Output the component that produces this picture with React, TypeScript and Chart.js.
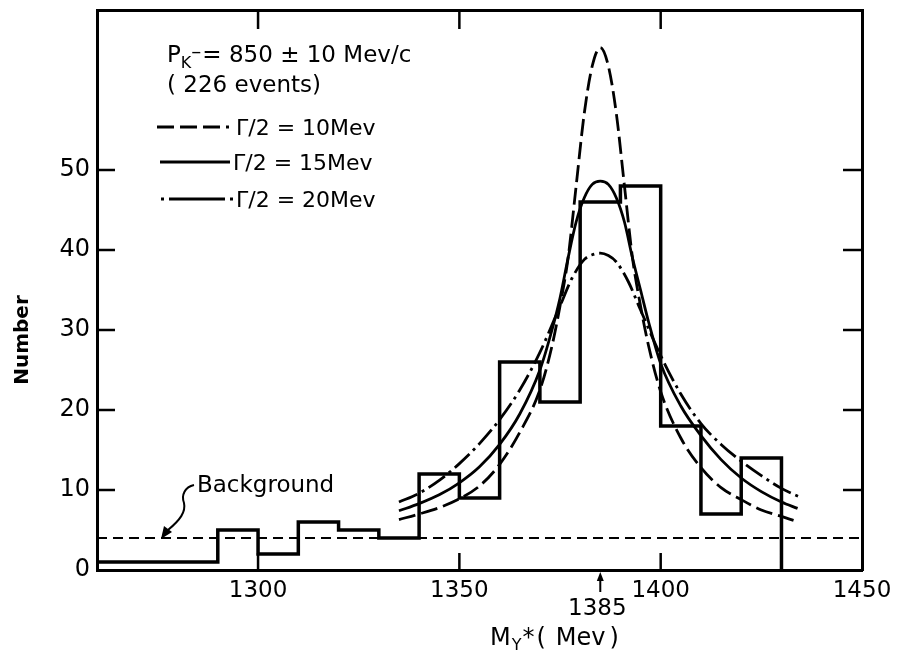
import React, { useEffect, useRef } from "react";
import { Chart, registerables } from "chart.js";

Chart.register(...registerables);

// ---- data ----
const binEdges = [1260, 1290, 1300, 1310, 1320, 1330, 1340, 1350, 1360, 1370, 1380, 1390, 1400, 1410, 1420, 1430];
const binCounts = [1, 5, 2, 6, 5, 4, 12, 9, 26, 21, 46, 48, 18, 7, 14, 0];

const backgroundX = [1260, 1450];
const backgroundLevel = [4, 4];

const curve10X = [1335, 1340, 1345, 1350, 1355, 1360, 1365, 1370, 1373, 1375, 1377, 1379, 1381, 1383, 1385, 1387, 1389, 1391, 1393, 1395, 1397, 1400, 1405, 1410, 1415, 1420, 1425, 1430, 1433];
const curve10Y = [6.3, 7.0, 7.8, 8.9, 10.5, 13.2, 17.2, 22.5, 28, 33, 39, 48, 57, 63, 65.3, 63, 57, 48, 39, 33, 28, 22.3, 16.5, 12.8, 10.3, 8.8, 7.5, 6.7, 6.2];

const curve15X = [1335, 1340, 1345, 1350, 1355, 1360, 1365, 1370, 1373, 1375, 1377, 1379, 1381, 1383, 1385, 1387, 1389, 1391, 1393, 1395, 1397, 1400, 1405, 1410, 1415, 1420, 1425, 1430, 1434];
const curve15Y = [7.4, 8.3, 9.4, 10.9, 12.9, 15.7, 19.5, 25, 30, 34, 39, 43.5, 46.5, 48.2, 48.6, 48.2, 46.5, 43.5, 39, 35, 31, 25.8, 20.5, 16.8, 13.8, 11.5, 9.8, 8.5, 7.7];

const curve20X = [1335, 1340, 1345, 1350, 1355, 1360, 1365, 1370, 1375, 1378, 1381, 1383, 1385, 1387, 1389, 1392, 1395, 1400, 1405, 1410, 1415, 1420, 1425, 1430, 1435];
const curve20Y = [8.5, 9.6, 11.2, 13.3, 15.8, 18.8, 22.5, 27.2, 33, 36.5, 38.8, 39.4, 39.6, 39.3, 38.5, 36, 32.5, 26.8, 22, 18.3, 15.7, 13.6, 11.8, 10.2, 9.0];

const xTicks = [1300, 1350, 1400, 1450];
const yTicks = [0, 10, 20, 30, 40, 50];
const peakMass = 1385;

const FONT = "'DejaVu Sans', sans-serif";

const pts = (xs: number[], ys: number[]) => xs.map((x, i) => ({ x, y: ys[i] }));

const overlay = {
  id: "overlay",
  afterDraw(chart: any) {
    const { ctx, chartArea } = chart;
    const { left, right, top, bottom } = chartArea;
    const x = chart.scales.x;
    const y = chart.scales.y;
    ctx.save();
    ctx.strokeStyle = "#000";
    ctx.fillStyle = "#000";
    ctx.lineCap = "butt";
    ctx.setLineDash([]);

    const line = (x1: number, y1: number, x2: number, y2: number) => {
      ctx.beginPath();
      ctx.moveTo(x1, y1);
      ctx.lineTo(x2, y2);
      ctx.stroke();
    };

    // inward tick marks on all four sides
    ctx.lineWidth = 2.5;
    xTicks.forEach((v) => {
      const px = x.getPixelForValue(v);
      if (px < right - 3) {
        line(px, bottom, px, bottom - 17);
        line(px, top, px, top + 19);
      }
    });
    yTicks.forEach((v) => {
      const py = y.getPixelForValue(v);
      if (py < bottom - 3) {
        line(left, py, left + 18, py);
        line(right, py, right - 19, py);
      }
    });

    // 1385 arrow + label
    const ax = x.getPixelForValue(peakMass);
    ctx.lineWidth = 2;
    line(ax, bottom + 8, ax, bottom + 22);
    ctx.beginPath();
    ctx.moveTo(ax, bottom + 2);
    ctx.lineTo(ax - 3.5, bottom + 11);
    ctx.lineTo(ax + 3.5, bottom + 11);
    ctx.closePath();
    ctx.fill();
    ctx.font = `23px ${FONT}`;
    ctx.textAlign = "center";
    ctx.textBaseline = "alphabetic";
    ctx.fillText(String(peakMass), ax - 3, 615);

    // annotation block
    ctx.textAlign = "left";
    let cx = 167;
    ctx.font = `23px ${FONT}`;
    ctx.fillText("P", cx, 62);
    cx += ctx.measureText("P").width;
    ctx.font = `16px ${FONT}`;
    ctx.fillText("K", cx, 68);
    cx += ctx.measureText("K").width;
    ctx.font = `20px ${FONT}`;
    ctx.fillText("–", cx, 58);
    cx += ctx.measureText("–").width + 1;
    ctx.font = `23px ${FONT}`;
    ctx.fillText("= 850 ± 10 Mev/c", cx, 62);
    ctx.fillText("( 226 events)", 167, 92);

    // legend samples
    ctx.lineWidth = 2.8;
    ctx.setLineDash([17, 6]);
    line(157, 127, 229, 127);
    ctx.setLineDash([]);
    line(160, 162, 230, 162);
    ctx.setLineDash([3, 5, 56, 5, 3, 40]);
    line(161, 199, 234, 199);
    ctx.setLineDash([]);
    ctx.font = `22px ${FONT}`;
    ctx.fillText("Γ/2 = 10Mev", 236, 135);
    ctx.fillText("Γ/2 = 15Mev", 233, 170);
    ctx.fillText("Γ/2 = 20Mev", 236, 207);

    // Background label with squiggly arrow
    ctx.font = `23px ${FONT}`;
    ctx.fillText("Background", 197, 492);
    ctx.lineWidth = 2;
    ctx.beginPath();
    ctx.moveTo(194, 485);
    ctx.bezierCurveTo(185, 487, 181, 495, 184, 503);
    ctx.bezierCurveTo(186, 512, 180, 520, 168, 530);
    ctx.stroke();
    ctx.beginPath();
    ctx.moveTo(161, 539);
    ctx.lineTo(164, 526);
    ctx.lineTo(172, 532);
    ctx.closePath();
    ctx.fill();

    // axis titles
    let tx = 490;
    ctx.font = `24px ${FONT}`;
    ctx.fillText("M", tx, 645);
    tx += ctx.measureText("M").width + 1;
    ctx.font = `16px ${FONT}`;
    ctx.fillText("Y", tx, 650);
    tx += ctx.measureText("Y").width + 1;
    ctx.font = `24px ${FONT}`;
    ctx.fillText("*", tx, 645);
    tx += ctx.measureText("*").width + 2;
    ctx.fillText("(", tx, 645);
    tx += ctx.measureText("(").width + 10;
    ctx.fillText("Mev", tx, 645);
    tx += ctx.measureText("Mev").width + 4;
    ctx.fillText(")", tx, 645);

    ctx.save();
    ctx.translate(23, 340);
    ctx.rotate(-Math.PI / 2);
    ctx.font = `bold 20px ${FONT}`;
    ctx.textAlign = "center";
    ctx.textBaseline = "middle";
    ctx.fillText("Number", 0, 0);
    ctx.restore();

    ctx.restore();
  },
};

export default function App() {
  const ref = useRef<HTMLCanvasElement | null>(null);

  useEffect(() => {
    if (!ref.current) return;
    const border = { display: true, color: "#000", width: 3 };
    const noPad = (s: any) => {
      s.paddingTop = 0;
      s.paddingBottom = 0;
      s.paddingLeft = 0;
      s.paddingRight = 0;
    };
    const chart = new Chart(ref.current, {
      type: "line",
      data: {
        datasets: [
          {
            label: "histogram",
            data: pts(binEdges, binCounts),
            stepped: "before",
            borderColor: "#000",
            borderWidth: 3.5,
            pointRadius: 0,
            fill: false,
          },
          {
            label: "background",
            data: pts(backgroundX, backgroundLevel),
            borderColor: "#000",
            borderWidth: 1.8,
            borderDash: [10, 6],
            pointRadius: 0,
            fill: false,
          },
          {
            label: "Γ/2 = 10Mev",
            data: pts(curve10X, curve10Y),
            borderColor: "#000",
            borderWidth: 2.8,
            borderDash: [17, 6],
            cubicInterpolationMode: "monotone",
            pointRadius: 0,
            fill: false,
          },
          {
            label: "Γ/2 = 15Mev",
            data: pts(curve15X, curve15Y),
            borderColor: "#000",
            borderWidth: 2.8,
            cubicInterpolationMode: "monotone",
            pointRadius: 0,
            fill: false,
          },
          {
            label: "Γ/2 = 20Mev",
            data: pts(curve20X, curve20Y),
            borderColor: "#000",
            borderWidth: 2.8,
            borderDash: [20, 5, 3, 5],
            cubicInterpolationMode: "monotone",
            pointRadius: 0,
            fill: false,
          },
        ],
      },
      options: {
        animation: false,
        responsive: false,
        layout: { padding: { left: 0, top: 10, right: 0, bottom: 0 } },
        plugins: { legend: { display: false }, tooltip: { enabled: false } },
        scales: {
          x: {
            type: "linear",
            position: "bottom",
            min: 1260,
            max: 1450,
            afterFit: (s: any) => { s.height = 83; noPad(s); },
            afterBuildTicks: (s: any) => { s.ticks = xTicks.map((v) => ({ value: v })); },
            grid: { display: false, drawTicks: false },
            border,
            ticks: {
              color: "#000",
              font: { family: FONT, size: 23 },
              padding: 7,
              maxRotation: 0,
              autoSkip: false,
              callback: (v: any) => String(v),
            },
          },
          x2: {
            type: "linear",
            position: "top",
            display: true,
            min: 1260,
            max: 1450,
            afterFit: (s: any) => { s.height = 0; noPad(s); },
            grid: { display: false, drawTicks: false },
            border,
            ticks: { display: false },
          },
          y: {
            type: "linear",
            position: "left",
            min: 0,
            max: 70,
            afterFit: (s: any) => { s.width = 97; noPad(s); },
            afterBuildTicks: (s: any) => { s.ticks = yTicks.map((v) => ({ value: v })); },
            grid: { display: false, drawTicks: false },
            border,
            ticks: {
              color: "#000",
              font: { family: FONT, size: 24 },
              padding: 7,
              callback: (v: any) => String(v),
            },
          },
          y2: {
            type: "linear",
            position: "right",
            display: true,
            min: 0,
            max: 70,
            afterFit: (s: any) => { s.width = 40; noPad(s); },
            grid: { display: false, drawTicks: false },
            border,
            ticks: { display: false },
          },
        },
      },
      plugins: [overlay],
    } as any);
    return () => chart.destroy();
  }, []);

  return (
    <div style={{ position: "absolute", left: 0, top: 0, width: 902, height: 653, background: "#fff" }}>
      <canvas ref={ref} width={902} height={653} />
    </div>
  );
}
